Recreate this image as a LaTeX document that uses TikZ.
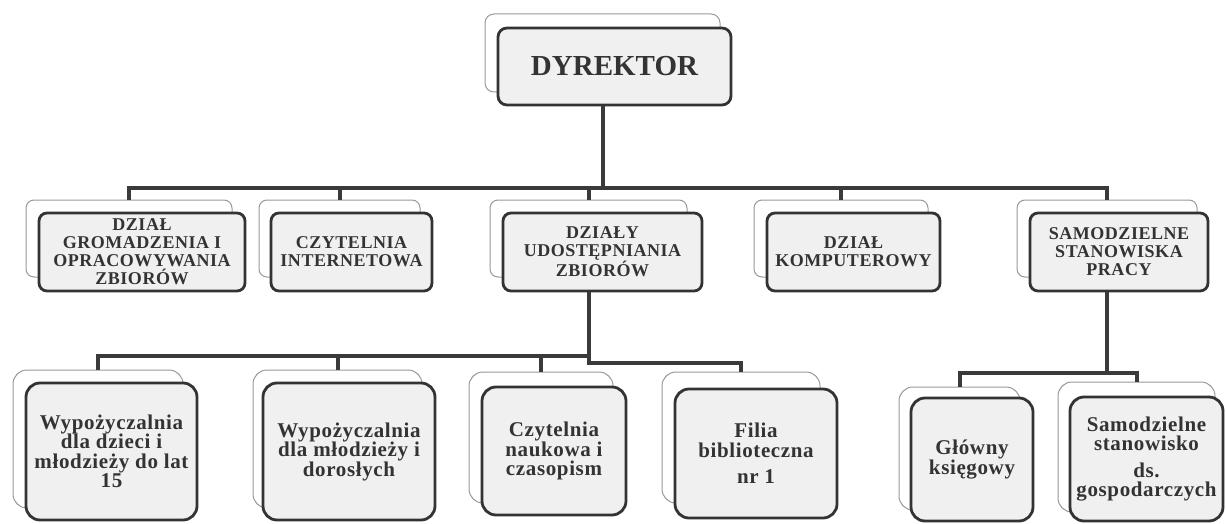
\documentclass[tikz,border=0pt]{standalone}
\usepackage{fontspec}
\setmainfont{Liberation Serif}
\newfontfamily\spacedA{Liberation Serif}[LetterSpace=3]
\newfontfamily\spacedB{Liberation Serif}[LetterSpace=3]
\definecolor{ink}{HTML}{333333}
\definecolor{linec}{HTML}{3A3A3A}
\newcommand{\orgbx}[7]{%
  \node[#6, minimum width={#4-#2}, minimum height={#5-#3}] (#1) at ({(#2+#4)/2},{(#3+#5)/2}) {#7};}
\begin{document}
\begin{tikzpicture}[x=1pt,y=-1pt,
  backbox/.style={draw=black!40, line width=1pt, fill=white, rounded corners=#1, inner sep=0pt},
  frontbox/.style={draw=ink, line width=2.8pt, fill=black!6, rounded corners=#1, inner sep=0pt, align=center, text=ink},
  conn/.style={draw=linec, line width=4pt},
  tdyr/.style={font=\bfseries\fontsize{29}{30}\selectfont},
  tone/.style={font=\spacedA\bfseries\fontsize{18}{18}\selectfont},
  ttwo/.style={font=\spacedB\bfseries\fontsize{21}{19.5}\selectfont}]
\useasboundingbox (0,0) rectangle (1226,524);
\fill[white] (0,0) rectangle (1226,524);
% back boxes
\orgbx{dyrb}{485}{14}{720}{92}{backbox=9pt}{}
\orgbx{b1b}{26}{200}{232}{277}{backbox=8pt}{}
\orgbx{b2b}{259}{200}{420}{277}{backbox=8pt}{}
\orgbx{b3b}{490}{200}{687}{277}{backbox=8pt}{}
\orgbx{b4b}{754}{200}{928}{277}{backbox=8pt}{}
\orgbx{b5b}{1017}{200}{1197}{277}{backbox=8pt}{}
\orgbx{Ab}{13}{370}{183}{508}{backbox=14pt}{}
\orgbx{Bb}{253}{370}{422}{508}{backbox=14pt}{}
\orgbx{Cb}{469}{372}{613}{503}{backbox=14pt}{}
\orgbx{Db}{662}{372}{820}{503}{backbox=14pt}{}
\orgbx{Eb}{899}{387}{1020}{510}{backbox=14pt}{}
\orgbx{Fb}{1058}{382}{1215}{512}{backbox=14pt}{}
% front boxes
\orgbx{dyr}{498}{28}{731}{105}{frontbox=9pt,tdyr}{DYREKTOR}
\orgbx{b1}{39}{213}{245}{291}{frontbox=8pt,tone}{DZIAŁ\\GROMADZENIA I\\OPRACOWYWANIA\\ZBIORÓW}
\orgbx{b2}{271}{213}{432}{291}{frontbox=8pt,tone}{CZYTELNIA\\INTERNETOWA}
\orgbx{b3}{503}{213}{702}{291}{frontbox=8pt,tone}{DZIAŁY\\UDOSTĘPNIANIA\\ZBIORÓW}
\orgbx{b4}{767}{213}{940}{291}{frontbox=8pt,tone}{DZIAŁ\\KOMPUTEROWY}
\orgbx{b5}{1030}{213}{1208}{291}{frontbox=8pt,tone}{SAMODZIELNE\\STANOWISKA\\PRACY}
\orgbx{A}{26}{383}{197}{520}{frontbox=14pt,ttwo}{Wypożyczalnia\\dla dzieci i\\młodzieży do lat\\15}
\orgbx{B}{263}{383}{435}{520}{frontbox=14pt,ttwo}{Wypożyczalnia\\dla młodzieży i\\dorosłych}
\orgbx{C}{482}{387}{626}{515}{frontbox=14pt,ttwo}{Czytelnia\\naukowa i\\czasopism}
\orgbx{D}{675}{389}{837}{518}{frontbox=14pt,ttwo}{Filia\\biblioteczna\\[7pt]nr 1}
\orgbx{E}{911}{398}{1033}{521}{frontbox=14pt,ttwo}{Główny\\księgowy}
\orgbx{F}{1070}{397}{1223}{521}{frontbox=14pt,ttwo}{Samodzielne\\stanowisko\\[7pt]ds.\\gospodarczych}
% connectors
\coordinate (bus1) at (0,188);
\coordinate (bus2l) at (0,356);
\coordinate (bus2r) at (0,363);
\coordinate (bus3) at (0,373);
\draw[conn] (dyrb.south |- dyr.south) -- (dyrb.south |- bus1);
\draw[conn] (b1b.north) -- (b1b.north |- bus1) -- (b5b.north |- bus1) -- (b5b.north);
\foreach \n in {b2b,b3b,b4b} \draw[conn] (\n.north) -- (\n.north |- bus1);
\draw[conn] (b3b.south |- b3.south) -- (b3b.south |- bus2r) -- (Db.north |- bus2r) -- (Db.north);
\draw[conn] (b3b.south |- bus2l) -- (Ab.north |- bus2l) -- (Ab.north);
\draw[conn] (Bb.north) -- (Bb.north |- bus2l);
\draw[conn] (Cb.north) -- (Cb.north |- bus2l);
\draw[conn] (b5b.south |- b5.south) -- (b5b.south |- bus3);
\draw[conn] (Eb.north) -- (Eb.north |- bus3) -- (Fb.north |- bus3) -- (Fb.north);
\end{tikzpicture}
\end{document}
